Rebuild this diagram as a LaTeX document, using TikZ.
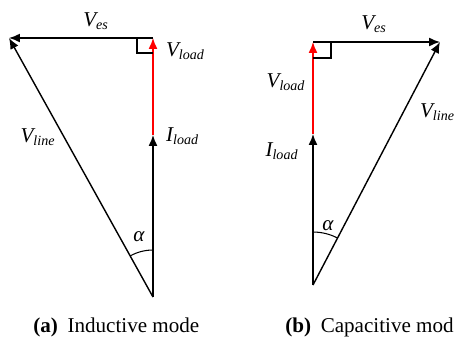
\documentclass[tikz,border=0pt]{standalone}
\usepackage{fontspec}
\setmainfont{Liberation Serif}
\usetikzlibrary{arrows.meta,positioning,angles}
\tikzset{
  phasor/.style={-{Latex[length=2.2mm,width=1.8mm]}, line width=0.8pt, draw=black},
  loadphasor/.style={phasor, draw=red},
  rightmark/.style={draw=black, line width=0.6pt},
  anglemark/.style={draw=black, line width=0.6pt},
  vlabel/.style={font=\fontsize{12}{14}\selectfont\itshape, inner sep=1pt},
  subcaption/.style={font=\fontsize{12}{14}\selectfont, inner sep=0pt, anchor=west}
}
\newcommand{\Vsub}[2]{#1\textsubscript{#2}}
\newcommand{\subtag}[1]{\textbf{(#1)}\hspace{5.5pt}}

\begin{document}
\begin{tikzpicture}[x=0.02cm, y=-0.02cm]
  \useasboundingbox (0,0) rectangle (454,345);
  % (a) inductive
  \coordinate (oa) at (153,297);
  \coordinate (ia) at (153,135);
  \coordinate (ta) at (153,38);
  \coordinate (la) at (9,38);
  \draw[phasor] (oa) -- (ia);
  \draw[loadphasor] (ia) -- (ta);
  \draw[phasor] (ta) -- (la);
  \draw[phasor] (oa) -- (la);
  \draw[rightmark] (ta) ++(-16,0) -- ++(0,15) -- ++(16,0);
  \pic[anglemark, angle radius=0.94cm] {angle=ta--oa--la};
  \node[vlabel] (vesa) at (96,21) {\Vsub{V}{es}};
  \node[vlabel, anchor=west] (vloada) at (164,51) {\Vsub{V}{load}};
  \node[vlabel, anchor=west] (iloada) at (164,136) {\Vsub{I}{load}};
  \node[vlabel] (vlinea) at (38,137) {\Vsub{V}{line}};
  \node[vlabel] (alphaa) at (139,237) {α};
  \node[subcaption] (capa) at (33,327) {\subtag{a}Inductive mode};
  % (b) capacitive
  \coordinate (ob) at (313,285);
  \coordinate (ib) at (313,134);
  \coordinate (tb) at (313,42);
  \coordinate (rb) at (440,42);
  \draw[phasor] (ob) -- (ib);
  \draw[loadphasor] (ib) -- (tb);
  \draw[phasor] (tb) -- (rb);
  \draw[phasor] (ob) -- (rb);
  \draw[rightmark] (tb) ++(18,0) -- ++(0,16) -- ++(-18,0);
  \pic[anglemark, angle radius=1.06cm] {angle=rb--ob--tb};
  \node[vlabel] (vesb) at (374,24) {\Vsub{V}{es}};
  \node[vlabel] (vloadb) at (286,82) {\Vsub{V}{load}};
  \node[vlabel] (iloadb) at (282,151) {\Vsub{I}{load}};
  \node[vlabel, anchor=west] (vlineb) at (418,112) {\Vsub{V}{line}};
  \node[vlabel] (alphab) at (328,226) {α};
  \node[subcaption] (capb) at (285,327) {\subtag{b}Capacitive mode};
\end{tikzpicture}
\end{document}
